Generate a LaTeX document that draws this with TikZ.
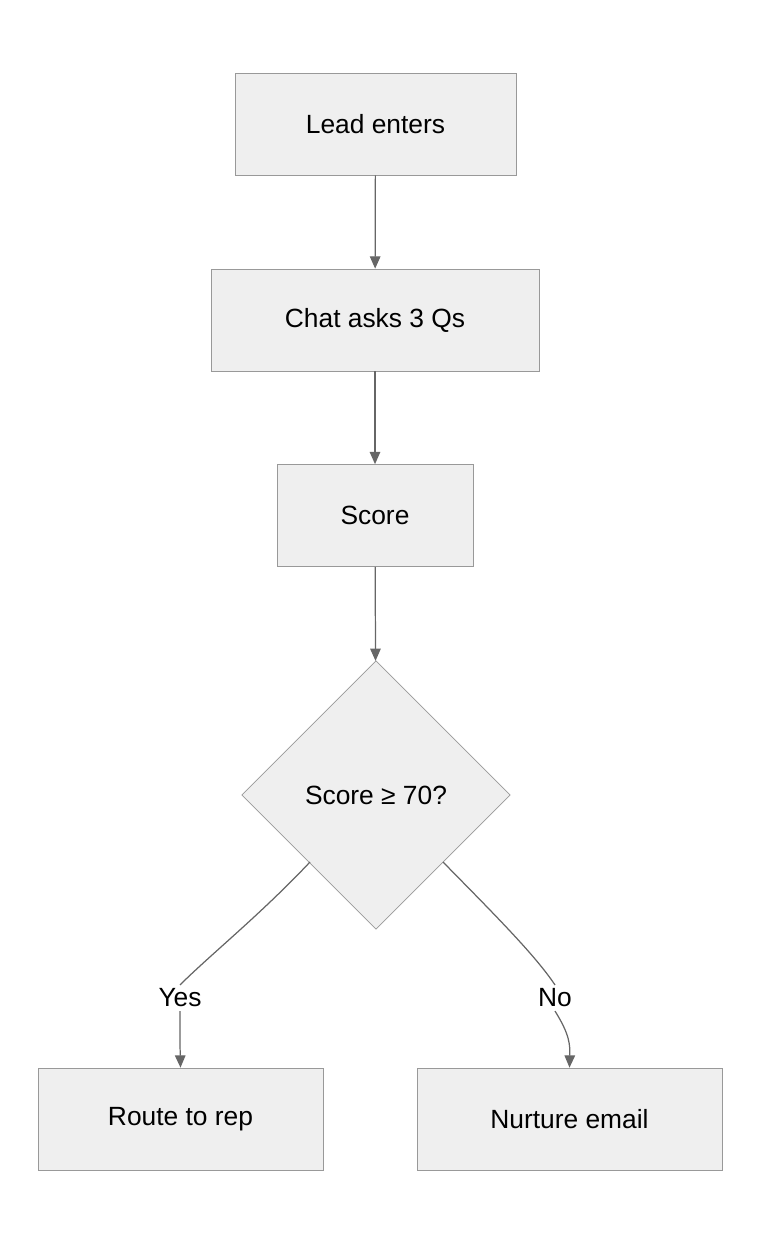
\documentclass[tikz,border=0pt]{standalone}
\usepackage{fontspec}
\setmainfont{Liberation Sans}
\usetikzlibrary{shapes.geometric,arrows.meta}
\definecolor{boxfill}{HTML}{EFEFEF}
\definecolor{boxline}{HTML}{999999}
\definecolor{arrowline}{HTML}{666666}
\begin{document}
\begin{tikzpicture}[
        x=0.02cm, y=-0.02cm,
        stage/.style={draw=boxline, fill=boxfill, minimum height=2.04cm, font=\fontsize{15}{18}\selectfont},
        decide/.style={diamond, aspect=1, draw=boxline, fill=boxfill, minimum size=5.37cm, inner sep=0pt, font=\fontsize{15}{18}\selectfont},
        tag/.style={fill=white, inner sep=2pt, font=\fontsize{15}{18}\selectfont},
        link/.style={draw=arrowline, line width=0.7pt},
        flow/.style={link, -{Triangle[length=7pt,width=6pt]}}
      ]
        % bounding box
        \useasboundingbox (0,0) rectangle (760,1244);
        % stages
        \node[stage, minimum width=5.62cm] (lead) at (375.5,124) {Lead enters};
        \node[stage, minimum width=6.56cm] (chat) at (375,320) {Chat asks 3 Qs};
        \node[stage, minimum width=3.92cm] (score) at (375,515.5) {Score};
        \node[decide] (check) at (376,795) {Score ≥ 70?};
        \node[stage, minimum width=5.70cm] (rep) at (180.5,1119) {Route to rep};
        \node[stage, minimum width=6.10cm] (email) at (569.5,1119) {Nurture email};
        % labels
        \node[tag] (yes) at (180,998) {Yes};
        \node[tag] (no) at (555,998) {No};
        \coordinate (cl) at (310,862);
        \coordinate (cr) at (443,862);
        % connectors
        \draw[flow] (lead) -- (chat);
        \draw[flow] (chat) -- (score);
        \draw[flow] (score) -- (check);
        \draw[link] (cl) .. controls (260,915) and (210,955) .. (yes.north);
        \draw[flow] (yes.south) .. controls (180,1040) and (180,1045) .. (rep.north);
        \draw[link] (cr) .. controls (495,915) and (535,955) .. (no.north);
        \draw[flow] (no.south) .. controls (570,1035) and (570,1045) .. (email.north);
      \end{tikzpicture}
\end{document}
